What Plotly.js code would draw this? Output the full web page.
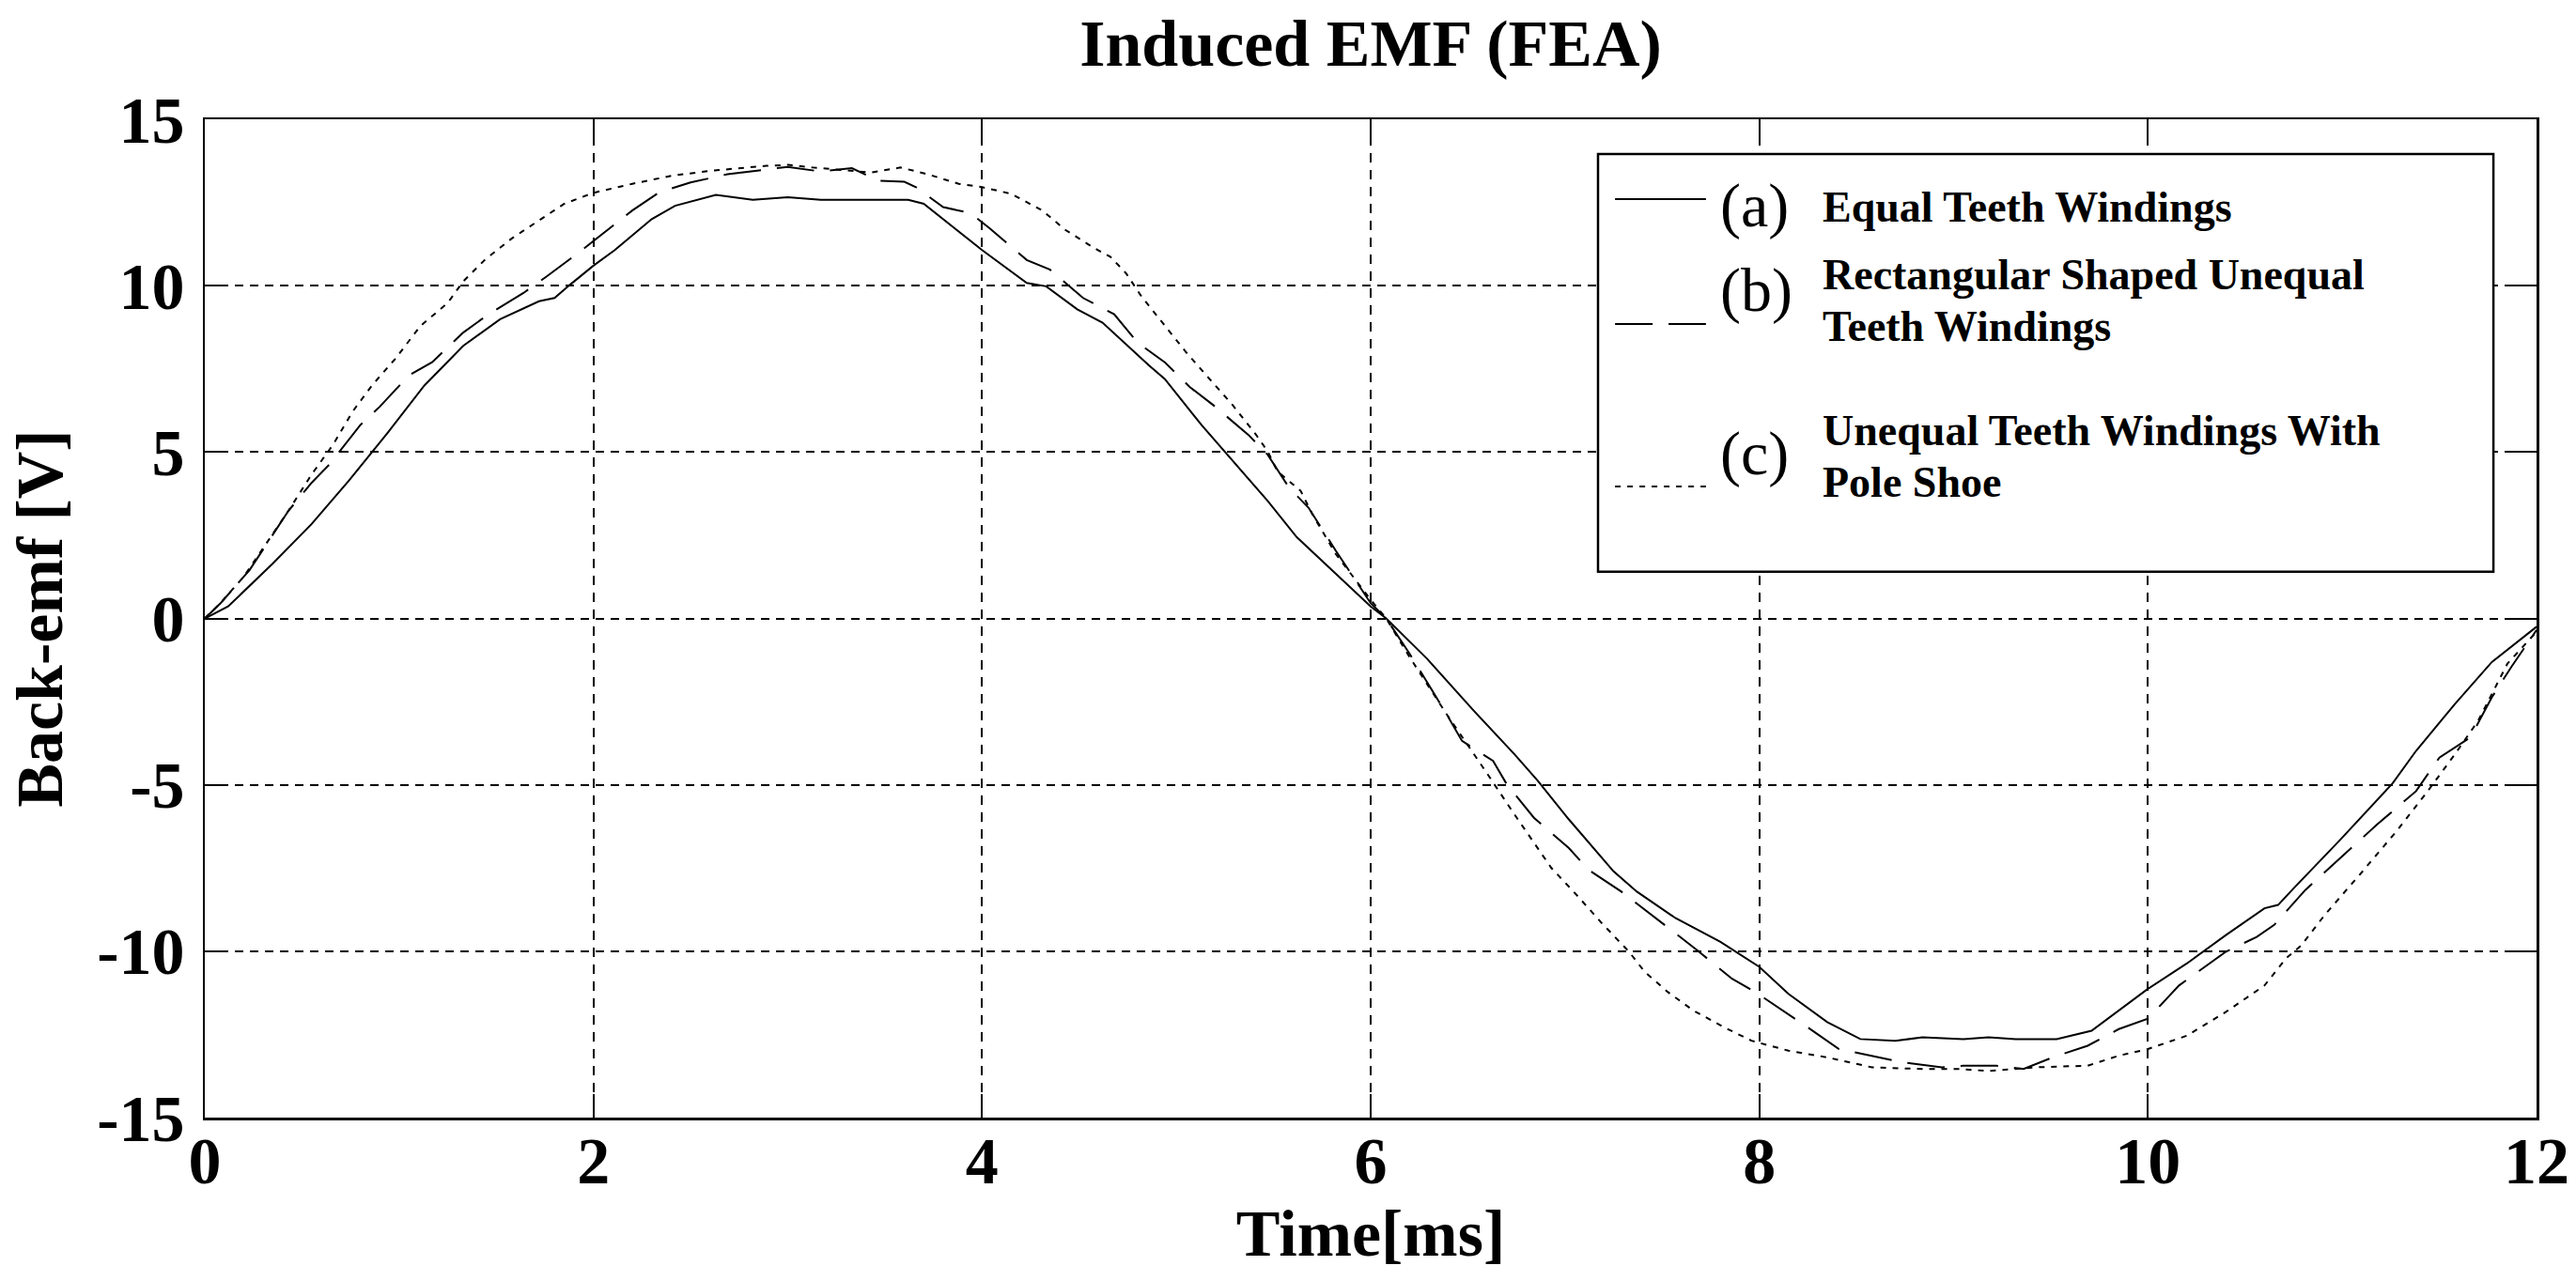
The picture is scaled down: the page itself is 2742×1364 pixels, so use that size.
<!DOCTYPE html>
<html>
<head>
<meta charset="utf-8">
<script src="https://cdn.plot.ly/plotly-3.0.1.min.js"></script>
<style>html,body{margin:0;padding:0;background:#fff;}</style>
</head>
<body>
<div id="mainPlot" style="width:2742px;height:1364px;"></div>
<script>
MAINPLOT = document.getElementById('mainPlot');

// (a) Equal Teeth Windings  -- solid
let tA = [0, 0.12, 0.35, 0.55, 0.74, 0.86, 0.94, 1.13, 1.33, 1.52, 1.72, 1.80, 1.88, 2.0, 2.11, 2.30, 2.42, 2.63, 2.82, 3.0,
          3.17, 3.62, 3.70, 3.86, 4.0, 4.23, 4.33, 4.49, 4.62, 4.86, 4.94, 5.13, 5.25, 5.47, 5.62, 5.82, 6.0, 6.08,
          6.29, 6.53, 6.74, 6.86, 7.02, 7.25, 7.37, 7.57, 7.8, 8.0, 8.15, 8.35, 8.52, 8.7, 8.84, 9.05, 9.18, 9.32,
          9.53, 9.71, 9.85, 10.0, 10.2, 10.4, 10.6, 10.67, 10.75, 10.99, 11.26, 11.38, 11.58, 11.77, 12.0];
let vA = [0, 0.36, 1.65, 2.84, 4.13, 5.0, 5.57, 7.0, 8.19, 8.99, 9.53, 9.63, 10.03, 10.6, 11.07, 12.0, 12.4, 12.73, 12.58, 12.66,
          12.58, 12.58, 12.46, 11.72, 11.07, 10.08, 9.98, 9.29, 8.89, 7.6, 7.2, 5.81, 5.0, 3.53, 2.44, 1.35, 0.36, 0,
          -1.21, -2.77, -4.08, -4.88, -6.04, -7.6, -8.21, -9.01, -9.72, -10.47, -11.28, -12.13, -12.64, -12.69, -12.59, -12.64, -12.59, -12.64,
          -12.64, -12.39, -11.78, -11.13, -10.37, -9.52, -8.71, -8.61, -8.11, -6.65, -4.95, -3.98, -2.57, -1.31, -0.25];

// (b) Rectangular Shaped Unequal Teeth Windings -- dashed
let tB = [0, 0.08, 0.23, 0.43, 0.55, 0.64, 0.8, 0.9, 1.05, 1.17, 1.33, 1.46, 1.64, 1.76, 1.93, 2.03, 2.2, 2.34, 2.5, 2.69, 2.89, 3.0,
          3.17, 3.33, 3.47, 3.6, 3.66, 3.8, 3.94, 4.04, 4.23, 4.35, 4.52, 4.68, 4.8, 4.94, 5.07, 5.19, 5.37, 5.47, 5.58, 5.68, 5.82, 6.0, 6.08,
          6.2, 6.29, 6.39, 6.47, 6.63, 6.7, 6.84, 7.02, 7.12, 7.29, 7.41, 7.57, 7.68, 7.86, 7.98, 8.07, 8.25, 8.41, 8.54, 8.74, 8.94, 9.05,
          9.22, 9.36, 9.51, 9.69, 9.85, 10.0, 10.16, 10.28, 10.4, 10.56, 10.65, 10.81, 10.99, 11.18, 11.38, 11.5, 11.66, 11.77, 11.87, 12.0];
let vB = [0, 0.45, 1.45, 3.23, 4.08, 4.62, 5.81, 6.36, 7.3, 7.7, 8.59, 9.14, 9.78, 10.28, 11.02, 11.47, 12.26, 12.81, 13.1, 13.35, 13.5, 13.57,
          13.43, 13.53, 13.15, 13.12, 12.96, 12.36, 12.18, 11.72, 10.77, 10.48, 9.63, 9.14, 8.29, 7.7, 6.95, 6.41, 5.52, 4.92, 3.93, 3.33, 2.04, 0.46, 0,
          -1.06, -1.91, -2.87, -3.68, -4.28, -4.98, -5.99, -6.9, -7.55, -8.21, -8.76, -9.47, -9.97, -10.83, -11.23, -11.58, -12.29, -12.94, -13.09, -13.34, -13.49, -13.44,
          -13.44, -13.54, -13.19, -12.84, -12.34, -12.03, -11.03, -10.52, -10.02, -9.57, -9.21, -8.16, -7.2, -6.19, -5.19, -4.18, -3.57, -2.37, -1.46, -0.35];

// (c) Unequal Teeth Windings With Pole Shoe -- dotted
let tC = [0, 0.08, 0.2, 0.35, 0.43, 0.55, 0.66, 0.76, 0.86, 0.98, 1.11, 1.25, 1.33, 1.44, 1.58, 1.72, 1.85, 2.0, 2.2, 2.4, 2.6, 2.89, 3.0,
          3.13, 3.43, 3.58, 3.72, 3.88, 4.0, 4.15, 4.31, 4.43, 4.58, 4.66, 4.74, 4.82, 4.94, 5.05, 5.17, 5.29, 5.41, 5.47, 5.52, 5.64, 5.7, 5.82, 6.0, 6.08,
          6.2, 6.39, 6.59, 6.74, 6.93, 7.06, 7.19, 7.33, 7.41, 7.53, 7.66, 7.82, 7.96, 8.15, 8.35, 8.58, 8.84, 9.03,
          9.18, 9.42, 9.69, 9.85, 10.0, 10.2, 10.4, 10.6, 10.71, 10.79, 10.91, 11.09, 11.28, 11.44, 11.58, 11.7, 11.85, 12.0];
let vC = [0, 0.46, 1.25, 2.54, 3.23, 4.33, 5.22, 6.21, 7.0, 7.8, 8.79, 9.48, 10.13, 10.77, 11.42, 11.96, 12.46, 12.79, 13.06, 13.3, 13.45, 13.6, 13.63,
          13.55, 13.4, 13.55, 13.35, 13.06, 12.96, 12.76, 12.26, 11.67, 11.12, 10.87, 10.38, 9.68, 8.79, 8.0, 7.2, 6.41, 5.52, 5.02, 4.42, 3.83, 3.13, 1.94, 0.56, 0,
          -1.16, -2.87, -4.58, -5.89, -7.5, -8.31, -9.16, -10.02, -10.62, -11.23, -11.78, -12.29, -12.69, -12.99, -13.19, -13.49, -13.54, -13.54,
          -13.6, -13.49, -13.44, -13.14, -12.94, -12.54, -11.83, -11.03, -10.22, -9.82, -8.91, -7.7, -6.39, -5.19, -4.08, -3.07, -1.36, -0.4];

let xTicks = [0, 2, 4, 6, 8, 10, 12];
let yTicks = [-15, -10, -5, 0, 5, 10, 15];

let legendMarks = ['(a)', '(b)', '(c)'];
let legendText = ['Equal Teeth Windings',
                  'Rectangular Shaped Unequal<br>Teeth Windings',
                  'Unequal Teeth Windings With<br>Pole Shoe'];

const SERIF = 'Liberation Serif, Times New Roman, serif';

var curveA = {
    x: tA, y: vA, type: 'scatter', mode: 'lines', name: legendText[0],
    line: { color: 'black', width: 2, dash: 'solid' }
};
var curveB = {
    x: tB, y: vB, type: 'scatter', mode: 'lines', name: legendText[1],
    line: { color: 'black', width: 2, dash: '40px,17px' }
};
var curveC = {
    x: tC, y: vC, type: 'scatter', mode: 'lines', name: legendText[2],
    line: { color: 'black', width: 2, dash: '6px,7px' }
};

var data = [curveA, curveB, curveC];

// hand-built legend box, like the MATLAB one
let shapes = [{
    type: 'rect', xref: 'x domain', yref: 'y domain',
    x0: 0.5975, x1: 0.9815, y0: 0.5467, y1: 0.9652,
    fillcolor: 'white', line: { color: 'black', width: 2.5 }, layer: 'above'
}];
let annotations = [];
let sampleY = [0.920, 0.7949, 0.6322];
let markY = [0.9135, 0.8288, 0.6651];
let textY = [0.9125, 0.8189, 0.6627];
const LINE_GAP = 55 / 1063;

data.forEach(function (tr, i) {
    shapes.push({
        type: 'line', xref: 'x domain', yref: 'y domain',
        x0: 0.6048, x1: 0.6438, y0: sampleY[i], y1: sampleY[i],
        line: { color: 'black', width: 2, dash: tr.line.dash }, layer: 'above'
    });
    annotations.push({
        xref: 'x domain', yref: 'y domain', x: 0.6491, y: markY[i],
        xanchor: 'left', yanchor: 'middle', showarrow: false, text: legendMarks[i],
        font: { family: SERIF, size: 66, color: 'black' }
    });
    let lines = legendText[i].split('<br>');
    lines.forEach(function (ln, j) {
        let yy = textY[i] + LINE_GAP * ((lines.length - 1) / 2 - j);
        annotations.push({
            xref: 'x domain', yref: 'y domain', x: 0.6930, y: yy,
            xanchor: 'left', yanchor: 'middle', showarrow: false, text: ln,
            font: { family: SERIF, size: 46, color: 'black', weight: 'bold' }
        });
    });
});

var layout = {
    width: 2742,
    height: 1364,
    margin: { l: 218, r: 42, t: 127, b: 174 },
    paper_bgcolor: 'white',
    plot_bgcolor: 'white',
    showlegend: false,
    title: {
        text: 'Induced EMF (FEA)',
        font: { family: SERIF, size: 70, color: 'black', weight: 'bold' },
        xref: 'paper', x: 0.5, xanchor: 'center',
        yref: 'container', y: 0.967, yanchor: 'middle'
    },
    xaxis: {
        range: [0, 12], tickvals: xTicks, ticktext: xTicks.map(String),
        ticks: 'inside', ticklen: 25, tickwidth: 2, tickcolor: 'black',
        showline: true, linecolor: 'black', linewidth: 2.5, mirror: 'ticks',
        showgrid: true, gridcolor: 'black', gridwidth: 2, griddash: '10px,8px',
        zeroline: false,
        tickfont: { family: SERIF, size: 70, color: 'black', weight: 'bold' },
        ticklabelstandoff: -17,
        title: { text: 'Time[ms]', standoff: 4,
                 font: { family: SERIF, size: 70, color: 'black', weight: 'bold' } },
        automargin: false
    },
    yaxis: {
        range: [-15, 15], tickvals: yTicks, ticktext: yTicks.map(String),
        ticks: 'inside', ticklen: 25, tickwidth: 2, tickcolor: 'black',
        showline: true, linecolor: 'black', linewidth: 2.5, mirror: 'ticks',
        showgrid: true, gridcolor: 'black', gridwidth: 2, griddash: '9px,7px',
        zeroline: false,
        tickfont: { family: SERIF, size: 70, color: 'black', weight: 'bold' },
        ticklabelstandoff: 5,
        title: { text: 'Back-emf [V]', standoff: 14,
                 font: { family: SERIF, size: 70, color: 'black', weight: 'bold' } },
        automargin: false
    },
    shapes: shapes,
    annotations: annotations
};

Plotly.newPlot(MAINPLOT, data, layout, { staticPlot: true });
</script>
</body>
</html>
